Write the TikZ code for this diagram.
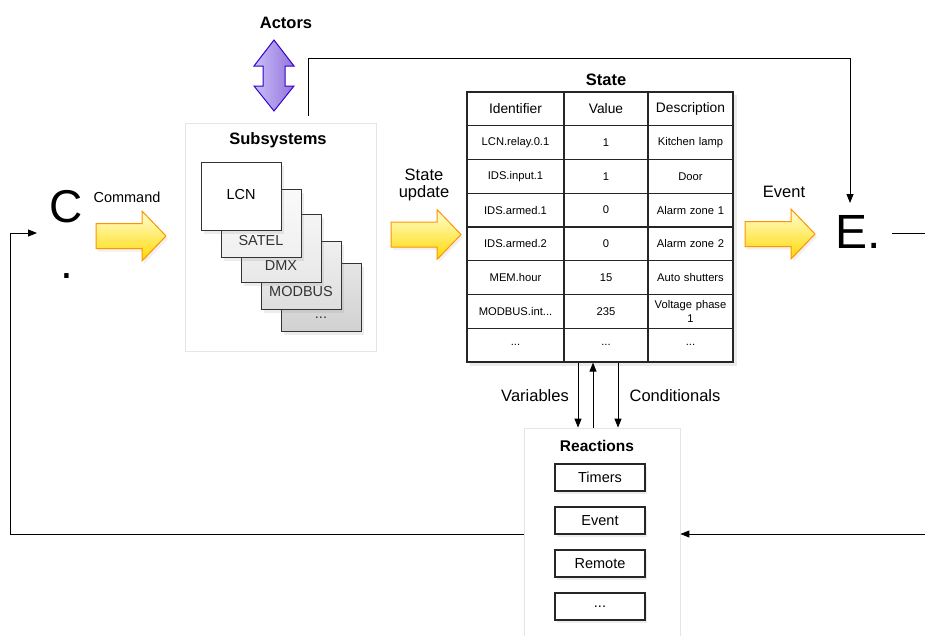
\documentclass[tikz,border=0pt]{standalone}
\usepackage{fontspec}
\setmainfont{Liberation Sans}
\usetikzlibrary{arrows.meta,shadows,calc}
\newcommand\fs[1]{\fontsize{#1}{\fpeval{#1*1.2}}\selectfont}
\newcommand\ddd{...}
\tikzset{
  arr/.style={-{Triangle[length=9pt,width=7pt]}, line width=0.9pt, black},
  ln/.style={line width=0.9pt, black},
  container/.style={draw=black!10, fill=white, line width=0.8pt, inner sep=0pt},
  stackbox/.style={draw=black!80, line width=1pt, minimum width=80pt, minimum height=68pt, inner sep=0pt,
    drop shadow={shadow xshift=3pt, shadow yshift=-4pt, opacity=0.15}},
  stacktxt/.style={font=\fs{14.5}, text=black!80, inner sep=0pt},
  cell/.style={draw=black!85, line width=1.2pt, fill=white, inner sep=1pt, align=center, font=\fs{11.2}},
  hcell/.style={cell, font=\fs{13.8}},
  title/.style={font=\bfseries\fs{16.5}, inner sep=0pt},
  lbl/.style={font=\fs{16.5}, inner sep=0pt, align=center},
  item/.style={draw=black!85, line width=1.1pt, fill=white, minimum width=90pt, minimum height=27pt, inner sep=0pt,
    font=\fs{14.5}, drop shadow={shadow xshift=2pt, shadow yshift=-3pt, opacity=0.15}},
  yarrow/.style={draw=orange!85!yellow, line width=1pt, top color=yellow!15, bottom color=yellow!70!orange,
    drop shadow={shadow xshift=2pt, shadow yshift=-3pt, opacity=0.12}},
  parrow/.style={draw=blue!60!violet, line width=1pt, left color=violet!25!blue!25, right color=violet!50!blue!55},
}
\newcommand\yarr[2]{\path[yarrow] (#1,#2) ++(0,-12.5) -- ++(46,0) -- ++(0,-12.5) -- ++(24,25) -- ++(-24,25) -- ++(0,-12.5) -- ++(-46,0) -- cycle;}
\begin{document}
\begin{tikzpicture}[x=1pt,y=-1pt]
\useasboundingbox (0,0) rectangle (925,635);
\clip (0,0) rectangle (925,635);

% Actors
\node[title] (actors) at (286,23) {Actors};
\path[parrow] (274,40) -- (294,66) -- (285,66) -- (285,86) -- (294,86) -- (274,111) -- (254,86) -- (263,86) -- (263,66) -- (254,66) -- cycle;

% Subsystems
\node[container, minimum width=191pt, minimum height=228pt] (subsys) at (280.5,237) {};
\node[title] (subtitle) at (278,140) {Subsystems};
\node[stackbox, top color=black!10, bottom color=black!18] (sb5) at (321,297) {};
\node[stacktxt] (sb5t) at (321,318) {\ddd};
\node[stackbox, top color=black!6, bottom color=black!13] (sb4) at (301,275) {};
\node[stacktxt] (sb4t) at (301,292) {MODBUS};
\node[stackbox, top color=black!4, bottom color=black!9] (sb3) at (281,248) {};
\node[stacktxt] (sb3t) at (281,266) {DMX};
\node[stackbox, top color=black!2, bottom color=black!6] (sb2) at (261,223) {};
\node[stacktxt] (sb2t) at (261,241) {SATEL};
\node[stackbox, fill=white] (sb1) at (241,196) {};
\node[stacktxt, text=black] (sb1t) at (241,195) {LCN};

% C node
\node[font=\fs{46}, inner sep=0pt] (C) at (66,207) {C};
\node[font=\fs{46}, inner sep=0pt] (Cdot) at (67,276) {.};
\coordinate (cin) at (37,233);
\node[font=\fs{14.5}, inner sep=0pt] (cmd) at (127,197) {Command};
\yarr{96}{236}

% State update
\node[lbl] (su) at (424,185) {State\\[-2pt]update};
\yarr{391}{234.5}

% State table
\node[title] (statet) at (606,80) {State};
\fill[black, opacity=0.08] (470,95) rectangle (737,366);
\def\ca{515.5}\def\cb{606}\def\cc{690.5}
\foreach \r/\a/\b/\c [count=\i from 0] in {
  0/LCN.relay.0.1/1/Kitchen lamp,
  1/IDS.input.1/1/Door,
  2/IDS.armed.1/0/Alarm zone 1,
  3/IDS.armed.2/0/Alarm zone 2,
  4/MEM.hour/15/Auto shutters,
  5/MODBUS.int\ddd/235/{Voltage phase\\1},
  6/\ddd/\ddd/\ddd}{
  \pgfmathsetmacro\yy{92+33.75*(\i+1.5)}
  \node[cell, minimum width=97pt, minimum height=33.75pt] (t\i a) at (\ca,\yy) {\a};
  \node[cell, minimum width=84pt, minimum height=33.75pt] (t\i b) at (\cb,\yy) {\b};
  \node[cell, minimum width=85pt, minimum height=33.75pt, text width=80pt] (t\i c) at (\cc,\yy) {\c};
}
\node[hcell, minimum width=97pt, minimum height=33.75pt] (th a) at (\ca,108.9) {Identifier};
\node[hcell, minimum width=84pt, minimum height=33.75pt] (th b) at (\cb,108.9) {Value};
\node[hcell, minimum width=85pt, minimum height=33.75pt] (th c) at (\cc,108.9) {Description};

% Event
\node[lbl] (ev) at (784,192) {Event};
\yarr{745}{234}
\node[font=\fs{48}, inner sep=0pt] (E) at (858,232) {E.};
\coordinate (etop) at (850,203);
\coordinate (subtop) at (308,116);
\draw[arr] (subtop) |- (850,58) -- (etop);

% Reactions
\node[container, minimum width=156pt, minimum height=212pt] (react) at (602,534) {};
\node[title, font=\bfseries\fs{15.5}] (rt) at (597,446) {Reactions};
\node[item] (r1) at (600,477.5) {Timers};
\node[item] (r2) at (600,520.5) {Event};
\node[item] (r3) at (600,563.5) {Remote};
\node[item] (r4) at (600,606.5) {\ddd};

% Variables / Conditionals
\draw[arr] (t6a.south -| 578,0) -- (react.north -| 578,0);
\draw[arr] (react.north -| 593,0) -- (t6b.south -| 593,0);
\draw[arr] (t6b.south -| 618,0) -- (react.north -| 618,0);
\node[lbl] (vars) at (535,396) {Variables};
\node[lbl] (conds) at (675,396) {Conditionals};

% Feedback loops
\draw[arr] (react.west) -| (10,233) -- (cin);
\coordinate (eout) at (892,233);
\draw[arr] (eout) -- (945,233) -- (945,534) -- (react.east);
\end{tikzpicture}
\end{document}
